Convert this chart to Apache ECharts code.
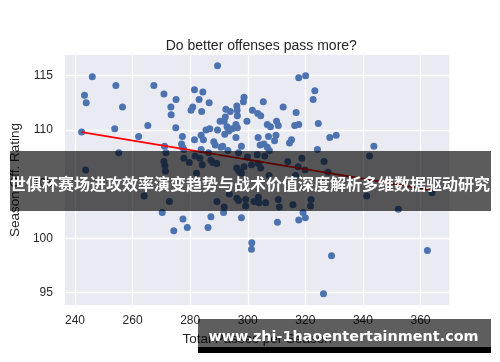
<!DOCTYPE html>
<html>
<head>
<meta charset="utf-8">
<script src="https://cdn.jsdelivr.net/npm/echarts@6/dist/echarts.min.js"></script>
<style>
html,body{margin:0;padding:0;background:#fff;}
#chart{width:500px;height:362px;}
</style>
</head>
<body>
<div id="chart"></div>
<script>
// Total passes (x) and season offensive rating (y)
const passes = [
 242.3,243.3,243.9,246.0,254.2,253.8,256.5,262.1,265.3,267.4,270.9,273.3,273.4,275.1,275.0,277.3,277.0,277.4,271.1,
 281.5,284.4,283.1,286.6,280.9,280.3,284.0,281.5,283.8,284.6,285.5,286.8,283.8,288.2,288.7,290.7,289.5,290.4,291.8,289.5,
 292.4,293.9,292.2,296.2,296.3,296.4,298.7,298.5,301.6,303.5,304.5,305.4,299.7,292.8,293.4,292.0,294.6,295.9,296.4,295.9,
 291.3,293.1,297.8,303.6,304.3,305.6,306.8,307.5,307.2,306.8,307.9,310.0,310.6,309.8,309.3,312.3,316.8,317.7,320.1,323.3,
 322.7,316.3,317.7,314.5,315.2,324.5,324.2,328.5,330.7,343.8,277.8,
 255.2,243.7,271.6,270.9,271.2,271.4,277.8,279.7,281.7,283.4,284.2,282.2,286.4,287.2,287.9,289.2,296.8,296.2,297.0,298.7,
 297.8,299.9,301.3,303.3,303.7,304.5,305.9,307.4,313.9,318.8,317.5,316.6,319.9,326.5,327.9,342.3,264.0,272.8,289.3,291.8,
 293.6,296.2,296.8,299.3,299.3,302.2,303.9,303.7,306.2,310.6,311.0,315.7,322.0,321.8,341.3,352.3,364.0,
 270.3,274.3,277.5,279.0,286.2,287.2,291.6,297.8,301.4,301.3,310.3,317.7,319.2,320.0,329.1,326.3,362.4
];
const rating = [
 109.8,113.2,112.5,114.9,114.1,110.1,112.1,109.4,110.4,114.1,113.3,112.1,111.4,112.8,110.2,109.4,108.7,108.4,108.5,
 113.7,113.5,112.8,112.5,112.1,111.8,111.7,109.1,109.5,109.1,110.0,110.1,108.2,108.9,108.6,108.4,115.9,110.8,110.8,110.0,
 111.9,111.7,111.2,112.2,111.8,111.3,113.0,112.6,111.8,111.5,111.3,112.6,110.8,110.3,109.9,109.6,110.1,110.5,110.2,109.3,
 108.5,108.1,108.5,109.3,108.6,108.7,108.4,108.1,109.4,110.5,110.3,110.8,110.4,109.5,109.0,112.1,111.6,114.8,115.0,113.6,
 112.8,110.4,110.5,108.8,109.1,110.6,108.2,109.3,109.5,108.5,108.2,
 107.9,106.3,107.9,107.1,106.7,106.2,107.4,107.0,107.6,107.4,106.8,106.0,107.9,107.2,107.0,106.9,107.9,106.5,106.2,106.6,
 106.0,107.5,106.8,107.7,106.9,106.5,107.6,105.8,107.1,107.4,106.6,105.8,106.3,107.1,106.1,107.6,103.9,103.4,103.4,102.9,
 104.1,103.7,103.5,103.6,103.0,103.4,103.3,103.8,103.3,103.6,102.9,103.1,103.6,103.0,103.9,102.7,104.2,
 102.4,100.7,101.8,101.0,101.0,102.0,102.4,101.9,99.6,99.0,101.5,101.7,102.4,101.9,98.4,94.9,98.9
];
// Regression line end points (passes, rating)
const fitPasses = [242.3, 364.0];
const fitRating = [109.8, 104.45];
const xTicks = [240, 260, 280, 300, 320, 340, 360];
const yTicks = [95, 100, 105, 110, 115];

const titleText = 'Do better offenses pass more?';
const xName = 'Total Passes per Season';
const yName = 'Season Off. Rating';
const bannerText = '世俱杯赛场进攻效率演变趋势与战术价值深度解析多维数据驱动研究';
const markText = 'www.zhi-1haoentertainment.com';

const points = passes.map((p, i) => [p, rating[i]]);
const fit = fitPasses.map((p, i) => [p, fitRating[i]]);

const chart = echarts.init(document.getElementById('chart'), null, {renderer: 'canvas'});
const font = 'Liberation Sans, Arial, sans-serif';
chart.setOption({
  animation: false,
  backgroundColor: '#ffffff',
  textStyle: {fontFamily: font},
  title: {
    text: titleText, left: 256.3, top: 34, textAlign: 'center',
    textStyle: {fontSize: 14, fontWeight: 'normal', color: '#262626', fontFamily: font}
  },
  grid: {
    left: 63.3, right: 50.7, top: 55, bottom: 57,
    show: true, backgroundColor: '#EAEAF2', borderWidth: 0
  },
  xAxis: {
    type: 'value', min: 236.5, max: 370,
    axisLine: {show: false},
    axisTick: {show: false, customValues: xTicks},
    axisLabel: {customValues: xTicks, color: '#262626', fontSize: 12, margin: 10, fontFamily: font},
    splitLine: {show: true, lineStyle: {color: '#ffffff', width: 1.3}},
    name: xName, nameLocation: 'middle', nameGap: 25,
    nameTextStyle: {fontSize: 13.5, color: '#262626', fontFamily: font}
  },
  yAxis: {
    type: 'value', min: 93.87, max: 116.9,
    axisLine: {show: false},
    axisTick: {show: false, customValues: yTicks},
    axisLabel: {customValues: yTicks, color: '#262626', fontSize: 12, margin: 12, fontFamily: font},
    splitLine: {show: true, lineStyle: {color: '#ffffff', width: 1.3}},
    name: yName, nameLocation: 'middle', nameGap: 36,
    nameTextStyle: {fontSize: 13.5, color: '#262626', fontFamily: font}
  },
  series: [
    {
      type: 'scatter', data: points, symbolSize: 7,
      itemStyle: {color: '#4C72B0', opacity: 1}, z: 2
    },
    {
      type: 'line', data: fit, symbol: 'none', z: 3,
      lineStyle: {color: '#ff0000', width: 1.8}
    }
  ],
  graphic: [
    {type: 'rect', shape: {x: 10, y: 151, width: 481, height: 60}, style: {fill: 'rgba(0,0,0,0.64)'}, z: 100},
    {type: 'text', x: 250, y: 184, z: 101, style: {
      text: bannerText, fill: '#ffffff', fontSize: 16, fontWeight: 'bold',
      fontFamily: 'Noto Sans CJK SC', align: 'center', verticalAlign: 'middle'}},
    {type: 'rect', shape: {x: 198, y: 319, width: 293, height: 28}, style: {fill: 'rgba(0,0,0,0.63)'}, z: 100},
    {type: 'rect', shape: {x: 198, y: 347, width: 293, height: 6}, style: {fill: '#000000'}, z: 100},
    {type: 'text', x: 343.5, y: 337, z: 101, style: {
      text: markText, fill: '#ffffff', fontSize: 14.4, fontWeight: 'bold',
      fontFamily: 'DejaVu Sans', align: 'center', verticalAlign: 'middle'}}
  ]
});
</script>
</body>
</html>
